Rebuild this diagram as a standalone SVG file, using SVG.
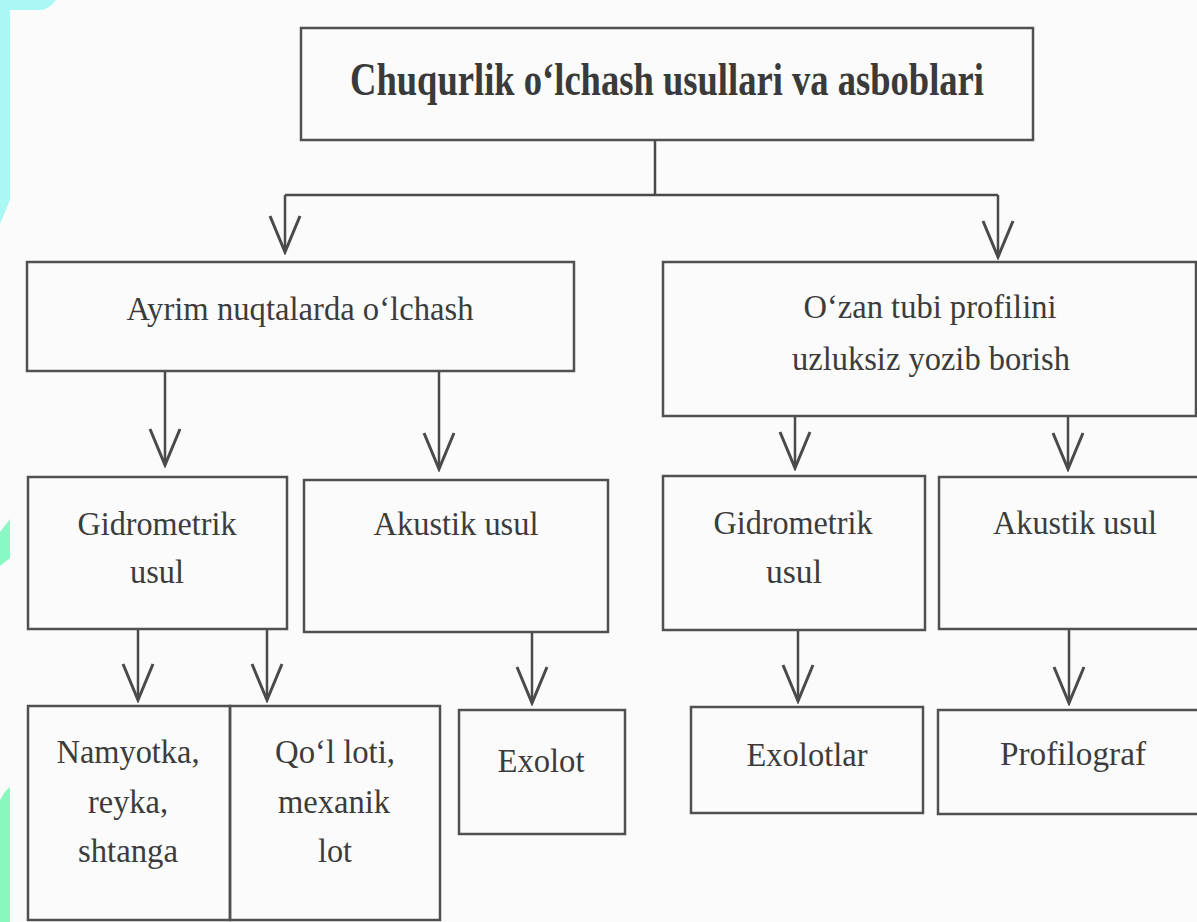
<svg xmlns="http://www.w3.org/2000/svg" width="1197" height="922" viewBox="0 0 1197 922">
<style>
.box{fill:none;stroke:#505050;stroke-width:2.5}
.t{font-family:"Liberation Serif","Times New Roman",serif;font-size:34px;fill:#3c3c3c;text-anchor:middle}
.tb{font-family:"Liberation Serif","Times New Roman",serif;font-size:46px;font-weight:bold;fill:#3a3a3a;text-anchor:middle}
.c{fill:none;stroke:#4a4a4a;stroke-width:2.5}
</style>
<defs>
<marker id="ah" markerUnits="userSpaceOnUse" markerWidth="42" markerHeight="36" viewBox="-3 -18 42 36" refX="36" refY="0" orient="auto">
<path d="M0,-15 L36,0 L0,15" fill="none" stroke="#4a4a4a" stroke-width="3"/>
</marker>
</defs>
<rect x="0" y="0" width="1197" height="922" fill="#fbfbfb"/>
<path d="M0,0 H56 Q50,8 42,10 H10 V200 L0,224 Z" fill="#aaf8f6"/>
<path d="M0,532 L10,519 V558 L0,566 Z" fill="#88f8c4"/>
<path d="M0,800 Q5,790 10,787 V922 H0 Z" fill="#88f8c0"/>

<g id="connectors">
<path class="c" d="M655,140 V195"/>
<path class="c" d="M285,195 H998"/>
<path class="c" d="M285,195 V252" marker-end="url(#ah)"/>
<path class="c" d="M998,195 V257" marker-end="url(#ah)"/>
<path class="c" d="M165,371 V465" marker-end="url(#ah)"/>
<path class="c" d="M439,371 V469" marker-end="url(#ah)"/>
<path class="c" d="M795,416 V468" marker-end="url(#ah)"/>
<path class="c" d="M1068,416 V469" marker-end="url(#ah)"/>
<path class="c" d="M138,629 V700" marker-end="url(#ah)"/>
<path class="c" d="M267,629 V700" marker-end="url(#ah)"/>
<path class="c" d="M532,632 V703" marker-end="url(#ah)"/>
<path class="c" d="M798,630 V701" marker-end="url(#ah)"/>
<path class="c" d="M1069,629 V703" marker-end="url(#ah)"/>
</g>

<g id="n-top">
<rect class="box" x="301" y="28" width="732" height="112"/>
<text class="tb" x="667" y="95" textLength="634" lengthAdjust="spacingAndGlyphs">Chuqurlik o‘lchash usullari va asboblari</text>
</g>
<g id="n-ayrim">
<rect class="box" x="27" y="262" width="547" height="109"/>
<text class="t" x="300" y="320" textLength="347" lengthAdjust="spacingAndGlyphs">Ayrim nuqtalarda o‘lchash</text>
</g>
<g id="n-ozan">
<rect class="box" x="663" y="262" width="533" height="154"/>
<text class="t" x="930" y="318" textLength="253" lengthAdjust="spacingAndGlyphs">O‘zan tubi profilini</text>
<text class="t" x="931" y="370" textLength="278" lengthAdjust="spacingAndGlyphs">uzluksiz yozib borish</text>
</g>
<g id="n-gidro-l">
<rect class="box" x="28" y="477" width="259" height="152"/>
<text class="t" x="157" y="535" textLength="159" lengthAdjust="spacingAndGlyphs">Gidrometrik</text>
<text class="t" x="157" y="583" textLength="54" lengthAdjust="spacingAndGlyphs">usul</text>
</g>
<g id="n-akustik-l">
<rect class="box" x="304" y="480" width="304" height="152"/>
<text class="t" x="456" y="535" textLength="165" lengthAdjust="spacingAndGlyphs">Akustik usul</text>
</g>
<g id="n-gidro-r">
<rect class="box" x="663" y="476" width="262" height="154"/>
<text class="t" x="793" y="534" textLength="159" lengthAdjust="spacingAndGlyphs">Gidrometrik</text>
<text class="t" x="794" y="583" textLength="56" lengthAdjust="spacingAndGlyphs">usul</text>
</g>
<g id="n-akustik-r">
<rect class="box" x="939" y="477" width="262" height="152"/>
<text class="t" x="1075" y="534" textLength="164" lengthAdjust="spacingAndGlyphs">Akustik usul</text>
</g>
<g id="n-namyotka">
<rect class="box" x="28" y="706" width="202" height="214"/>
<text class="t" x="128" y="763" textLength="143" lengthAdjust="spacingAndGlyphs">Namyotka,</text>
<text class="t" x="128" y="813" textLength="80" lengthAdjust="spacingAndGlyphs">reyka,</text>
<text class="t" x="128" y="862" textLength="100" lengthAdjust="spacingAndGlyphs">shtanga</text>
</g>
<g id="n-qol">
<rect class="box" x="230" y="706" width="210" height="214"/>
<text class="t" x="335" y="763" textLength="120" lengthAdjust="spacingAndGlyphs">Qo‘l loti,</text>
<text class="t" x="334" y="813" textLength="112" lengthAdjust="spacingAndGlyphs">mexanik</text>
<text class="t" x="335" y="862" textLength="34" lengthAdjust="spacingAndGlyphs">lot</text>
</g>
<g id="n-exolot">
<rect class="box" x="459" y="710" width="166" height="124"/>
<text class="t" x="541" y="772" textLength="87" lengthAdjust="spacingAndGlyphs">Exolot</text>
</g>
<g id="n-exolotlar">
<rect class="box" x="691" y="707" width="232" height="106"/>
<text class="t" x="807" y="766" textLength="121" lengthAdjust="spacingAndGlyphs">Exolotlar</text>
</g>
<g id="n-profilograf">
<rect class="box" x="938" y="710" width="263" height="104"/>
<text class="t" x="1073" y="765" textLength="146" lengthAdjust="spacingAndGlyphs">Profilograf</text>
</g>
</svg>
